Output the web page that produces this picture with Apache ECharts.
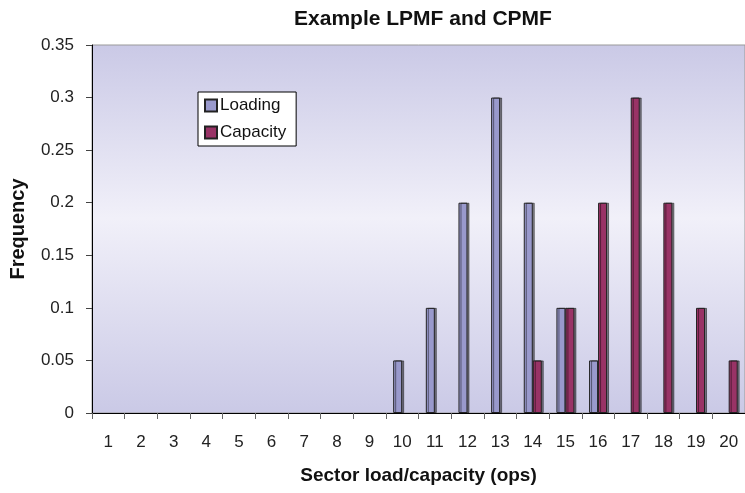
<!DOCTYPE html>
<html><head><meta charset="utf-8">
<script src="https://cdn.jsdelivr.net/npm/echarts@6/dist/echarts.min.js"></script>
<style>html,body{margin:0;padding:0;background:#fff}#c{width:745px;height:493px}</style>
</head><body><div id="c"></div>
<script>
const categories = ['1','2','3','4','5','6','7','8','9','10','11','12','13','14','15','16','17','18','19','20'];
const loading = [0,0,0,0,0,0,0,0,0,0.05,0.1,0.2,0.3,0.2,0.1,0.05,0,0,0,0];
const capacity = [0,0,0,0,0,0,0,0,0,0,0,0,0,0.05,0.1,0.2,0.3,0.2,0.1,0.05];
const yTicks = [0,0.05,0.1,0.15,0.2,0.25,0.3,0.35];

const chart = echarts.init(document.getElementById('c'));
const font = 'Liberation Sans, Arial, sans-serif';
const toNull = a => a.map(v => v === 0 ? null : v);
chart.setOption({
  animation: false,
  title: { text: 'Example LPMF and CPMF', left: 418, textAlign: 'center', top: 4,
    textStyle: { fontFamily: font, fontSize: 21, fontWeight: 'bold', color: '#111' } },
  legend: {
    orient: 'vertical', left: 198, top: 92, itemWidth: 12, itemHeight: 12, itemGap: 10,
    icon: 'rect',
    backgroundColor: '#fff', borderColor: '#000', borderWidth: 1, padding: [5, 10, 5, 6],
    textStyle: { fontFamily: font, fontSize: 17, color: '#111', padding: [0,0,0,-2] },
    data: ['Loading', 'Capacity']
  },
  grid: {
    left: 92, top: 45, width: 660, height: 368, show: true,
    borderColor: '#999', borderWidth: 1,
    backgroundColor: new echarts.graphic.LinearGradient(0, 0, 0, 1, [
      { offset: 0, color: '#cac9e6' },
      { offset: 0.47, color: '#f1f0f9' },
      { offset: 1, color: '#cac9e6' }
    ])
  },
  xAxis: {
    type: 'category', data: categories,
    name: 'Sector load/capacity (ops)', nameLocation: 'middle', nameGap: 53,
    nameTextStyle: { fontFamily: font, fontSize: 19, fontWeight: 'bold', color: '#111' },
    axisLine: { lineStyle: { color: '#000', width: 1 } },
    axisTick: { show: true, length: 6, lineStyle: { color: '#666' } },
    axisLabel: { fontFamily: font, fontSize: 17, color: '#222', margin: 21, interval: 0 }
  },
  yAxis: {
    type: 'value', min: 0, max: 0.35, interval: 0.05,
    name: 'Frequency', nameLocation: 'middle', nameGap: 64, nameRotate: 90,
    nameTextStyle: { fontFamily: font, fontSize: 20, fontWeight: 'bold', color: '#111' },
    axisLine: { show: true, lineStyle: { color: '#000', width: 1 } },
    axisTick: { show: true, length: 6, lineStyle: { color: '#444' } },
    splitLine: { show: false },
    axisLabel: { fontFamily: font, fontSize: 17, color: '#222', margin: 18,
      formatter: v => { const t = yTicks.find(x => Math.abs(x - v) < 1e-9); return String(t !== undefined ? t : +v.toFixed(2)); } }
  },
  series: [
    { name: 'Loading', type: 'bar', data: toNull(loading), barWidth: 9, barGap: '0%',
      itemStyle: { color: '#9999cc', borderColor: '#222', borderWidth: 1,
        shadowColor: 'rgba(0,0,0,0.45)', shadowOffsetX: 2, shadowOffsetY: 0, shadowBlur: 0 } },
    { name: 'Capacity', type: 'bar', data: toNull(capacity), barWidth: 9,
      itemStyle: { color: '#993366', borderColor: '#222', borderWidth: 1,
        shadowColor: 'rgba(0,0,0,0.45)', shadowOffsetX: 2, shadowOffsetY: 0, shadowBlur: 0 } }
  ]
});
</script></body></html>
